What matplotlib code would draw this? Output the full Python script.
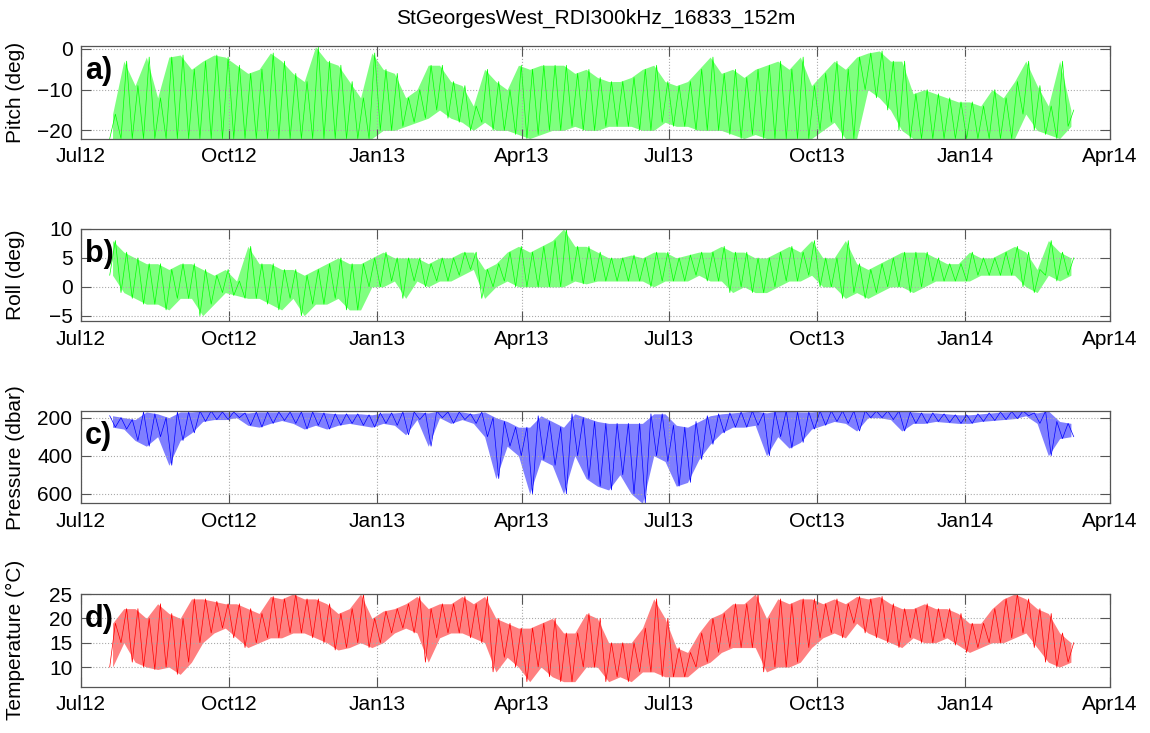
import numpy as np
import pandas as pd
import matplotlib
matplotlib.use('Agg')
import matplotlib.pyplot as plt
import matplotlib.dates as mdates

plt.rcParams['font.family'] = ['Liberation Sans', 'DejaVu Sans']

title = 'StGeorgesWest_RDI300kHz_16833_152m'

# weekly samples, starting 19 Jul 2012
start = '2012-07-19'
n_weeks = 86

# weekly low / high of each record
pitch_lo = [-22, -22, -22, -22, -22, -22, -22, -22, -22, -22, -22, -22, -22, -22, -22, -22, -22, -22, -22, -22,
            -22, -22, -22, -22, -20, -20, -19, -18, -17, -15, -17, -18, -20, -18, -20, -20, -21, -22, -21, -20,
            -20, -19, -20, -20, -19, -19, -19, -20, -20, -18, -19, -19, -20, -20, -20, -21, -22, -21, -22, -22,
            -22, -22, -22, -20, -18, -22, -22, -10, -12, -15, -20, -22, -22, -22, -22, -22, -22, -22, -22, -22,
            -22, -16, -20, -21, -22, -19]
pitch_hi = [-16, -3, -9, -2, -12, -2, -1.5, -5, -3, -1.5, -2, -4, -6, -5, -1, -3, -6, -8, 0.5, -3,
            -4, -8, -12, -1, -5, -6, -12, -10, -4, -4, -8, -9, -14, -5, -8, -10, -4, -5, -4, -4,
            -4, -6, -5, -7, -8, -8, -7, -5, -4, -8, -9, -8, -5, -2, -6, -5, -7, -5, -4, -3,
            -5, -2, -9, -6, -3, -5, -2, -1, -0.5, -3, -3, -11, -10, -11, -12, -13, -13, -14, -10, -12,
            -8, -3, -9, -14, -3, -15]

roll_lo = [2, -1, -2, -3, -3, -4, -2, -2, -5, -3, -1, -1.5, -2, -2, -3, -4, -2, -5, -3, -3,
           -2, -4, -4, 0, 0, 1, -2, 1, 0, 1, 1, 2, 3, -2, 0, 1, 0, 0, 0, 0,
           0, 1, 0.5, 1, 1, 1, 1, 1, 0, 1, 1, 1, 2, 1, 1, -1, 0, -1, -1, 0,
           1, 1, 2, 0, 0, -2, -1, -2, -1, 0, 0, -1, 0, 1, 1, 1, 1, 2, 2, 2,
           2, 0, -1, 2, 1, 2]
roll_hi = [8, 6, 5, 4, 4, 3, 4, 4, 3, 2, 3, 1, 7, 4, 4, 3, 3, 2, 3, 4,
           5, 4, 4, 5, 6, 5, 5, 5, 4, 5, 5, 6, 6, 3, 4, 6, 7, 6, 7, 8,
           10, 7, 7, 6, 5, 5, 5.5, 5, 6, 6, 5, 5.5, 6, 6, 7, 6, 6, 5, 5, 6,
           7, 6, 8, 5, 5, 8, 4, 3, 4, 5, 6, 6, 6, 5, 4, 4, 6, 5, 5, 6,
           7, 6, 3, 8, 6, 5]

pres_lo = [190, 200, 210, 170, 180, 200, 170, 170, 165, 165, 170, 170, 175, 170, 170, 170, 170, 170, 170, 175,
           180, 180, 180, 185, 175, 175, 170, 170, 175, 165, 170, 170, 180, 170, 200, 220, 250, 250, 190, 220,
           250, 180, 200, 220, 230, 230, 230, 230, 180, 180, 240, 250, 220, 190, 180, 175, 170, 165, 175, 165,
           165, 170, 170, 165, 165, 165, 165, 165, 165, 165, 165, 170, 175, 175, 180, 185, 185, 180, 175, 170,
           168, 165, 175, 165, 220, 230]
pres_hi = [250, 260, 320, 350, 300, 450, 320, 280, 220, 210, 210, 200, 240, 250, 230, 215, 230, 260, 240, 260,
           240, 230, 240, 250, 230, 240, 290, 210, 350, 200, 230, 210, 230, 300, 520, 350, 400, 600, 420, 450,
           600, 400, 520, 560, 580, 500, 600, 650, 400, 430, 560, 540, 420, 340, 280, 250, 250, 240, 400, 300,
           360, 330, 260, 240, 220, 230, 270, 200, 200, 210, 270, 230, 230, 220, 225, 230, 230, 220, 215, 210,
           205, 190, 230, 400, 310, 300]

temp_lo = [10, 15, 11, 10, 9.5, 10, 8.5, 11, 15, 17, 18, 16, 14, 15, 16, 16, 17, 17, 16, 15,
           13.5, 14, 15, 14, 15, 17, 18, 17, 11, 16, 17, 17, 16, 15, 9, 12, 10, 7, 10, 8,
           7, 7, 10, 10, 7, 8, 7, 9, 9, 8, 8, 8, 10, 11, 13, 14, 14, 14, 9, 10,
           10, 11, 14, 16, 17, 16, 19, 17, 16, 15, 14, 16, 15, 15, 16, 14.5, 13, 14, 15, 15,
           16, 17, 14, 11, 10, 11]
temp_hi = [19, 22, 22, 20, 23, 21, 20, 24, 24, 23.5, 23, 23, 22, 21, 24.5, 24, 25, 24, 24, 23,
           21, 22, 25, 20, 21.5, 22, 23, 24.5, 22, 23, 23, 24.5, 23, 24.5, 20, 19, 18, 18, 19, 20,
           17, 17, 21, 20, 15, 15, 15, 18, 24, 20, 14, 13, 17, 20, 21, 23, 23, 25, 20, 24,
           23, 24, 24, 23, 24, 23, 24.5, 24, 24.5, 23, 22, 22, 23, 22, 22, 21, 19, 19, 22, 24,
           25, 24, 22, 21, 17, 15]

tick_dates = ['2012-07-01', '2012-10-01', '2013-01-01', '2013-04-01',
              '2013-07-01', '2013-10-01', '2014-01-01', '2014-04-01']
tick_labels = ['Jul12', 'Oct12', 'Jan13', 'Apr13', 'Jul13', 'Oct13', 'Jan14', 'Apr14']

weeks = mdates.date2num(pd.date_range(start, periods=n_weeks, freq='7D').to_pydatetime())
xt = mdates.date2num(pd.to_datetime(tick_dates).to_pydatetime())


def zigzag(lo, hi):
    t = np.empty(2 * n_weeks)
    v = np.empty(2 * n_weeks)
    t[0::2] = weeks
    t[1::2] = weeks + 3.5
    v[0::2] = lo
    v[1::2] = hi
    return t, v


panels = [
    ('a)', 'Pitch (deg)', pitch_lo, pitch_hi, '#00ff00', (-22.1, 0.6), [-20, -10, 0]),
    ('b)', 'Roll (deg)', roll_lo, roll_hi, '#00ff00', (-6, 10), [-5, 0, 5, 10]),
    ('c)', 'Pressure (dbar)', pres_lo, pres_hi, '#0000ff', (651, 165), [200, 400, 600]),
    ('d)', 'Temperature (\u00b0C)', temp_lo, temp_hi, '#ff0000', (6, 25), [10, 15, 20, 25]),
]

fig = plt.figure(figsize=(11.5, 7.33), dpi=100)
bottoms = [0.8104, 0.5614, 0.3131, 0.0634]

for (lab, ylab, lo, hi, col, ylim, yt), b in zip(panels, bottoms):
    ax = fig.add_axes([0.0702, b, 0.895, 0.1262])
    ax.fill_between(weeks + 1.75, lo, hi, color=col, alpha=0.5, lw=0)
    t, v = zigzag(lo, hi)
    ax.plot(t, v, color=col, lw=0.5)
    ax.set_xlim(xt[0], xt[-1])
    ax.set_ylim(*ylim)
    ax.set_xticks(xt)
    ax.set_xticklabels(tick_labels)
    ax.set_yticks(yt)
    ax.grid(True, color='#aaaaaa', linestyle=':', lw=0.8)
    ax.tick_params(direction='in', length=7, width=0.8, color='#555555',
                   top=True, right=True, labelsize=15, pad=6)
    for s in ax.spines.values():
        s.set_color('#555555')
        s.set_linewidth(0.9)
    ax.set_ylabel(ylab, fontsize=15)
    ax.yaxis.set_label_coords(-0.054, 0.5)
    ax.text(0.004, 0.73, lab, transform=ax.transAxes, fontsize=22,
            fontweight='bold', va='center', ha='left')

fig.text(0.0702 + 0.895 / 2, 1 - 18 / 733, title, ha='center', va='center', fontsize=15)

fig.savefig('out.png', dpi=100)
